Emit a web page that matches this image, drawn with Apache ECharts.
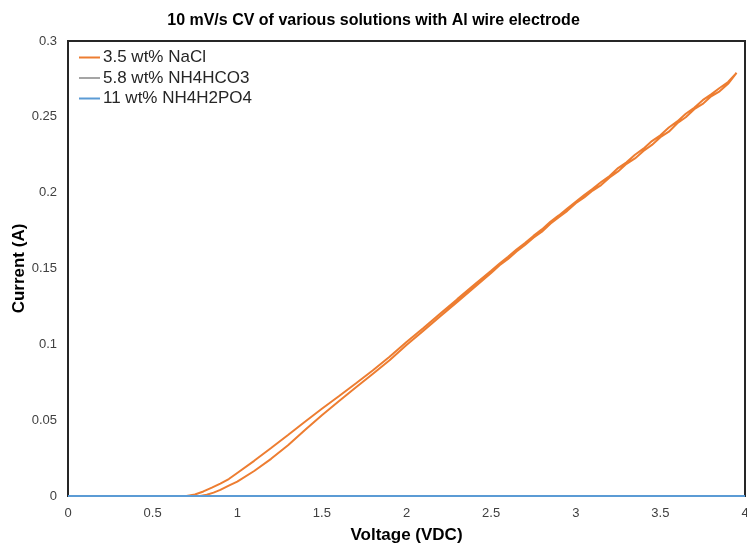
<!DOCTYPE html>
<html>
<head>
<meta charset="utf-8">
<title>10 mV/s CV</title>
<script src="https://cdn.jsdelivr.net/npm/echarts@6/dist/echarts.min.js"></script>
<style>
  html, body { margin: 0; padding: 0; background: #fff; }
  #chart { width: 747px; height: 543px; }
</style>
</head>
<body>
<div id="chart"></div>
<script>
// NaCl CV: forward sweep (lower branch) and reverse sweep (upper branch)
var fwdVolt = [0, 0.3, 0.6, 0.78, 0.82, 0.86, 0.9, 0.95, 1.0, 1.1, 1.2, 1.3, 1.4, 1.5, 1.6, 1.7, 1.8, 1.9, 2.0, 2.1, 2.2, 2.3, 2.4,
  2.5, 2.55, 2.6, 2.65, 2.7, 2.75, 2.8, 2.85, 2.9, 2.95, 3.0, 3.05, 3.1, 3.15, 3.2, 3.25, 3.3, 3.35, 3.4, 3.45, 3.5, 3.55, 3.6, 3.65, 3.7, 3.75, 3.8, 3.85, 3.9, 3.95];
var fwdCurr = [0, 0, 0, 0, 0.0008, 0.0022, 0.004, 0.0068, 0.0095, 0.0165, 0.0245, 0.0335, 0.0435, 0.0533, 0.0625, 0.0715, 0.0805, 0.0895, 0.0995, 0.109, 0.1185, 0.128, 0.1375,
  0.1470, 0.1521, 0.1563, 0.1612, 0.1655, 0.1703, 0.1742, 0.1795, 0.1838, 0.1880, 0.1930, 0.1968, 0.2014, 0.2050, 0.2100, 0.2140, 0.2190, 0.2226, 0.2275, 0.2315, 0.2366, 0.2402, 0.2458, 0.2497, 0.2550, 0.2585, 0.2635, 0.2668, 0.2718, 0.2790];
var revVolt = [3.95, 3.9, 3.85, 3.8, 3.75, 3.7, 3.65, 3.6, 3.55, 3.5, 3.45, 3.4, 3.35, 3.3, 3.25, 3.2, 3.15, 3.1, 3.05, 3.0, 2.95, 2.9, 2.85, 2.8, 2.75, 2.7, 2.65, 2.6, 2.55, 2.5,
  2.4, 2.3, 2.2, 2.1, 2.0, 1.9, 1.8, 1.7, 1.6, 1.5, 1.4, 1.3, 1.2, 1.1, 1.0, 0.95, 0.9, 0.85, 0.8, 0.75, 0.7, 0.4, 0];
var revCurr = [0.2800, 0.2730, 0.2690, 0.2648, 0.2610, 0.2560, 0.2520, 0.2470, 0.2430, 0.2378, 0.2340, 0.2290, 0.2250, 0.2200, 0.2162, 0.2110, 0.2070, 0.2025, 0.1985, 0.1940, 0.1895, 0.1850, 0.1808, 0.1758, 0.1715, 0.1668, 0.1625, 0.1578, 0.1533, 0.1485,
  0.1392, 0.1298, 0.1203, 0.1108, 0.1015, 0.0918, 0.0828, 0.0742, 0.0658, 0.0575, 0.0490, 0.0402, 0.0316, 0.0232, 0.0152, 0.0112, 0.0082, 0.0055, 0.0030, 0.0010, 0, 0, 0];

// the two other solutions stay flat at zero
var hco3Volt = [0, 1, 2, 3, 4];
var hco3Curr = [0, 0, 0, 0, 0];
var h2po4Volt = [0, 1, 2, 3, 4];
var h2po4Curr = [0, 0, 0, 0, 0];

var seriesNames = ['3.5 wt% NaCl', '5.8 wt% NH4HCO3', '11 wt% NH4H2PO4'];
var seriesColors = ['#ED7D31', '#A5A5A5', '#5B9BD5'];

function pairs(xs, ys) {
  var out = [];
  for (var i = 0; i < xs.length; i++) out.push([xs[i], ys[i]]);
  return out;
}

var naclData = pairs(fwdVolt, fwdCurr).concat(pairs(revVolt, revCurr));

var myChart = echarts.init(document.getElementById('chart'));
myChart.setOption({
  animation: false,
  color: seriesColors,
  textStyle: { fontFamily: 'Liberation Sans, Arial, sans-serif' },
  title: {
    text: '10 mV/s CV of various solutions with Al wire electrode',
    left: 'center',
    top: 8,
    textStyle: { fontSize: 16, fontWeight: 'bold', color: '#000' }
  },
  legend: {
    orient: 'vertical',
    left: 79,
    top: 49,
    padding: 0,
    itemWidth: 21,
    itemHeight: 2,
    itemGap: 3.5,
    icon: 'rect',
    textStyle: { fontSize: 17, color: '#262626', padding: [0, 0, 0, -2] },
    data: seriesNames
  },
  grid: {
    left: 68, right: 2, top: 41, bottom: 47,
    containLabel: false,
    outerBoundsMode: 'none',
    show: true, borderColor: '#262626', borderWidth: 2
  },
  xAxis: {
    type: 'value',
    min: 0, max: 4, interval: 0.5,
    name: 'Voltage (VDC)',
    nameLocation: 'middle',
    nameGap: 31,
    nameMoveOverlap: false,
    nameTextStyle: { fontSize: 17, fontWeight: 'bold', color: '#000' },
    axisLine: { lineStyle: { color: '#262626', width: 2 } },
    axisTick: { show: false },
    axisLabel: { fontSize: 13, color: '#404040', margin: 11 },
    splitLine: { show: false }
  },
  yAxis: {
    type: 'value',
    min: 0, max: 0.3, interval: 0.05,
    name: 'Current (A)',
    nameLocation: 'middle',
    nameGap: 40,
    nameMoveOverlap: false,
    nameTextStyle: { fontSize: 17, fontWeight: 'bold', color: '#000' },
    axisLine: { show: true, lineStyle: { color: '#262626', width: 2 } },
    axisTick: { show: false },
    axisLabel: { fontSize: 13, color: '#404040', margin: 11 },
    splitLine: { show: false }
  },
  series: [
    {
      name: seriesNames[0], type: 'line', showSymbol: false,
      lineStyle: { width: 2 }, data: naclData
    },
    {
      name: seriesNames[1], type: 'line', showSymbol: false,
      lineStyle: { width: 2 }, data: pairs(hco3Volt, hco3Curr)
    },
    {
      name: seriesNames[2], type: 'line', showSymbol: false,
      lineStyle: { width: 2 }, data: pairs(h2po4Volt, h2po4Curr)
    }
  ]
});
</script>
</body>
</html>
